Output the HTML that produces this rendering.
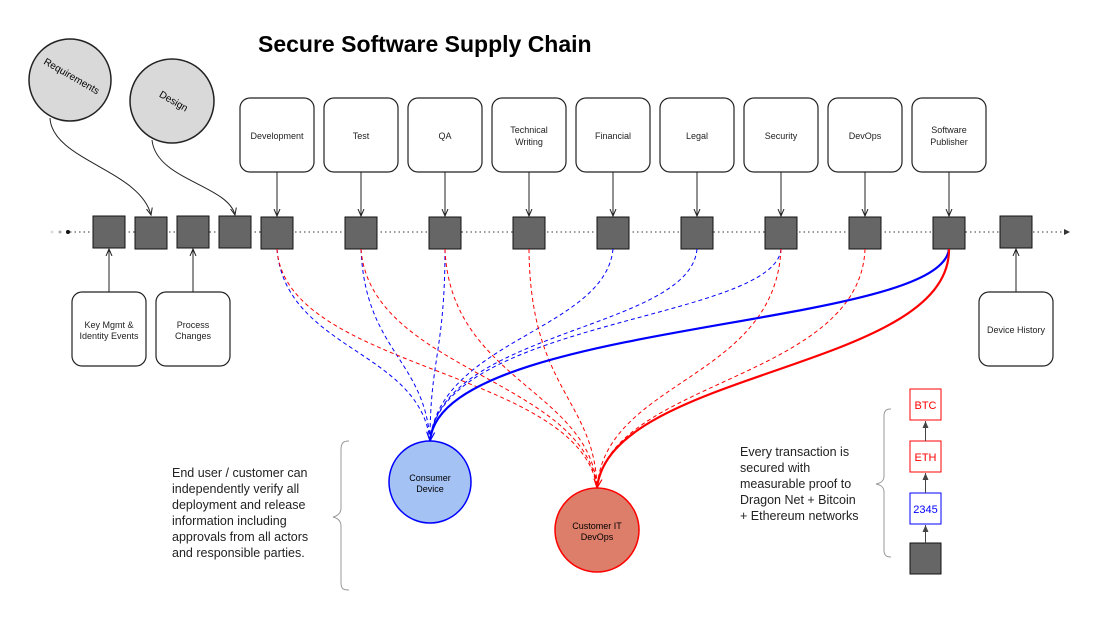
<!DOCTYPE html>
<html><head><meta charset="utf-8"><style>
body{margin:0;background:#fff}
svg text{font-family:"Liberation Sans",Arial,sans-serif}
</style></head><body>
<svg width="1095" height="614" viewBox="0 0 1095 614" xmlns="http://www.w3.org/2000/svg">
<defs>
<marker id="ak" markerWidth="8" markerHeight="8" refX="7" refY="4" orient="auto" markerUnits="userSpaceOnUse"><path d="M0,1 L7,4 L0,7" fill="none" stroke="#222" stroke-width="1"/></marker>
<marker id="ab" markerWidth="10" markerHeight="10" refX="9" refY="5" orient="auto" markerUnits="userSpaceOnUse"><path d="M0,1 L9,5 L0,9" fill="none" stroke="#00f" stroke-width="1.2"/></marker>
<marker id="ar" markerWidth="10" markerHeight="10" refX="9" refY="5" orient="auto" markerUnits="userSpaceOnUse"><path d="M0,1 L9,5 L0,9" fill="none" stroke="#f00" stroke-width="1.2"/></marker>
<marker id="up" markerWidth="8" markerHeight="8" refX="7" refY="4" orient="auto" markerUnits="userSpaceOnUse"><path d="M0,1 L7,4 L0,7 Z" fill="#444"/></marker>
</defs>
<text x="258" y="52" font-size="23" font-weight="bold">Secure Software Supply Chain</text>
<circle cx="52" cy="232" r="1.5" fill="#ddd"/><circle cx="60" cy="232" r="1.5" fill="#aaa"/><circle cx="68" cy="232" r="2" fill="#111"/>
<line x1="70" y1="232" x2="1065" y2="232" stroke="#333" stroke-dasharray="1.5,3"/>
<path d="M1064,229 L1070,232 L1064,235 Z" fill="#333"/>
<circle cx="70" cy="80" r="41" fill="#d9d9d9" stroke="#222" stroke-width="1.5"/>
<text transform="translate(70,79) rotate(30)" font-size="10" text-anchor="middle">Requirements</text>
<circle cx="172" cy="101" r="42" fill="#d9d9d9" stroke="#222" stroke-width="1.5"/>
<text transform="translate(172,104) rotate(30)" font-size="10" text-anchor="middle">Design</text>
<path d="M50,118 C52,160 140,170 151,215" fill="none" stroke="#222" marker-end="url(#ak)"/>
<path d="M152,140 C156,180 228,185 235,215" fill="none" stroke="#222" marker-end="url(#ak)"/>
<g fill="#fff" stroke="#222" stroke-width="1.2">
<rect x="240" y="98" width="74" height="74" rx="10"/>
<rect x="324" y="98" width="74" height="74" rx="10"/>
<rect x="408" y="98" width="74" height="74" rx="10"/>
<rect x="492" y="98" width="74" height="74" rx="10"/>
<rect x="576" y="98" width="74" height="74" rx="10"/>
<rect x="660" y="98" width="74" height="74" rx="10"/>
<rect x="744" y="98" width="74" height="74" rx="10"/>
<rect x="828" y="98" width="74" height="74" rx="10"/>
<rect x="912" y="98" width="74" height="74" rx="10"/>
<rect x="72" y="292" width="74" height="74" rx="10"/>
<rect x="156" y="292" width="74" height="74" rx="10"/>
<rect x="979" y="292" width="74" height="74" rx="10"/>
</g>
<g font-size="9" text-anchor="middle" fill="#222">
<text x="277" y="139">Development</text>
<text x="361" y="139">Test</text>
<text x="445" y="139">QA</text>
<text x="529" y="133">Technical</text><text x="529" y="145">Writing</text>
<text x="613" y="139">Financial</text>
<text x="697" y="139">Legal</text>
<text x="781" y="139">Security</text>
<text x="865" y="139">DevOps</text>
<text x="949" y="133">Software</text><text x="949" y="145">Publisher</text>
<text x="109" y="328">Key Mgmt &amp;</text><text x="109" y="339">Identity Events</text>
<text x="193" y="328">Process</text><text x="193" y="339">Changes</text>
<text x="1016" y="333">Device History</text>
</g>
<g stroke="#222" fill="none">
<line x1="277" y1="172" x2="277" y2="216" marker-end="url(#ak)"/>
<line x1="361" y1="172" x2="361" y2="216" marker-end="url(#ak)"/>
<line x1="445" y1="172" x2="445" y2="216" marker-end="url(#ak)"/>
<line x1="529" y1="172" x2="529" y2="216" marker-end="url(#ak)"/>
<line x1="613" y1="172" x2="613" y2="216" marker-end="url(#ak)"/>
<line x1="697" y1="172" x2="697" y2="216" marker-end="url(#ak)"/>
<line x1="781" y1="172" x2="781" y2="216" marker-end="url(#ak)"/>
<line x1="865" y1="172" x2="865" y2="216" marker-end="url(#ak)"/>
<line x1="949" y1="172" x2="949" y2="216" marker-end="url(#ak)"/>
<line x1="109" y1="292" x2="109" y2="249" marker-end="url(#ak)"/>
<line x1="193" y1="292" x2="193" y2="249" marker-end="url(#ak)"/>
<line x1="1016" y1="292" x2="1016" y2="249" marker-end="url(#ak)"/>
</g>
<g fill="#666" stroke="#111" stroke-width="1">
<rect x="93" y="216" width="32" height="32"/><rect x="135" y="217" width="32" height="32"/>
<rect x="177" y="216" width="32" height="32"/><rect x="219" y="216" width="32" height="32"/>
<rect x="261" y="217" width="32" height="32"/><rect x="345" y="217" width="32" height="32"/>
<rect x="429" y="217" width="32" height="32"/><rect x="513" y="217" width="32" height="32"/>
<rect x="597" y="217" width="32" height="32"/><rect x="681" y="217" width="32" height="32"/>
<rect x="765" y="217" width="32" height="32"/><rect x="849" y="217" width="32" height="32"/>
<rect x="933" y="217" width="32" height="32"/><rect x="1000" y="216" width="32" height="32"/>
</g>
<g fill="none" stroke-dasharray="4,3" stroke-width="1">
<g stroke="#00f">
<path d="M277,249 C285,350 420,350 430,441"/>
<path d="M361,249 C365,350 425,360 430,441"/>
<path d="M445,249 C445,350 430,360 430,441"/>
<path d="M613,249 C605,330 440,340 430,441"/>
<path d="M697,249 C690,330 440,330 430,441"/>
<path d="M781,249 C775,320 440,320 430,441"/>
</g>
<g stroke="#f00">
<path d="M277,249 C285,370 580,370 597,488"/>
<path d="M361,249 C370,370 585,380 597,488"/>
<path d="M445,249 C450,380 590,390 597,488"/>
<path d="M529,249 C530,390 595,400 597,488"/>
<path d="M781,249 C775,380 605,380 597,488"/>
<path d="M865,249 C860,380 610,380 597,488"/>
</g>
</g>
<path d="M949,249 C940,330 440,320 430,441" fill="none" stroke="#00f" stroke-width="2.2" marker-end="url(#ab)"/>
<path d="M949,249 C950,370 610,370 597,488" fill="none" stroke="#f00" stroke-width="2.2" marker-end="url(#ar)"/>
<circle cx="430" cy="482" r="41" fill="#a4c2f4" stroke="#00f" stroke-width="1.5"/>
<text x="430" y="481" font-size="9" text-anchor="middle">Consumer</text>
<text x="430" y="492" font-size="9" text-anchor="middle">Device</text>
<circle cx="597" cy="530" r="42" fill="#dd7e6b" stroke="#f00" stroke-width="1.5"/>
<text x="597" y="529" font-size="9" text-anchor="middle">Customer IT</text>
<text x="597" y="540" font-size="9" text-anchor="middle">DevOps</text>
<g font-size="12.5" fill="#222">
<text x="172" y="477">End user / customer can</text>
<text x="172" y="493">independently verify all</text>
<text x="172" y="509">deployment and release</text>
<text x="172" y="525">information including</text>
<text x="172" y="541">approvals from all actors</text>
<text x="172" y="557">and responsible parties.</text>
</g>
<path d="M349,441 C343,441 341,443 341,450 L341,508 C341,514 337,516 333,517 C337,518 341,520 341,526 L341,582 C341,589 343,590 349,590" fill="none" stroke="#999"/>
<g font-size="12.5" fill="#222">
<text x="740" y="456">Every transaction is</text>
<text x="740" y="472">secured with</text>
<text x="740" y="488">measurable proof to</text>
<text x="740" y="504">Dragon Net + Bitcoin</text>
<text x="740" y="520">+ Ethereum networks</text>
</g>
<path d="M891,409 C886,409 884,411 884,416 L884,476 C884,481 881,483 876,484 C881,485 884,487 884,492 L884,550 C884,555 886,557 891,557" fill="none" stroke="#999"/>
<rect x="910" y="389" width="31" height="31" fill="#fff" stroke="#f00"/>
<text x="925.5" y="409" font-size="11" fill="#f00" text-anchor="middle">BTC</text>
<rect x="910" y="441" width="31" height="31" fill="#fff" stroke="#f00"/>
<text x="925.5" y="461" font-size="11" fill="#f00" text-anchor="middle">ETH</text>
<rect x="910" y="493" width="31" height="31" fill="#fff" stroke="#00f"/>
<text x="925.5" y="513" font-size="11" fill="#00f" text-anchor="middle">2345</text>
<rect x="910" y="543" width="31" height="31" fill="#666" stroke="#111"/>
<g stroke="#444" fill="none">
<line x1="925.5" y1="543" x2="925.5" y2="525" marker-end="url(#up)"/>
<line x1="925.5" y1="493" x2="925.5" y2="473" marker-end="url(#up)"/>
<line x1="925.5" y1="441" x2="925.5" y2="421" marker-end="url(#up)"/>
</g>
</svg>
</body></html>
